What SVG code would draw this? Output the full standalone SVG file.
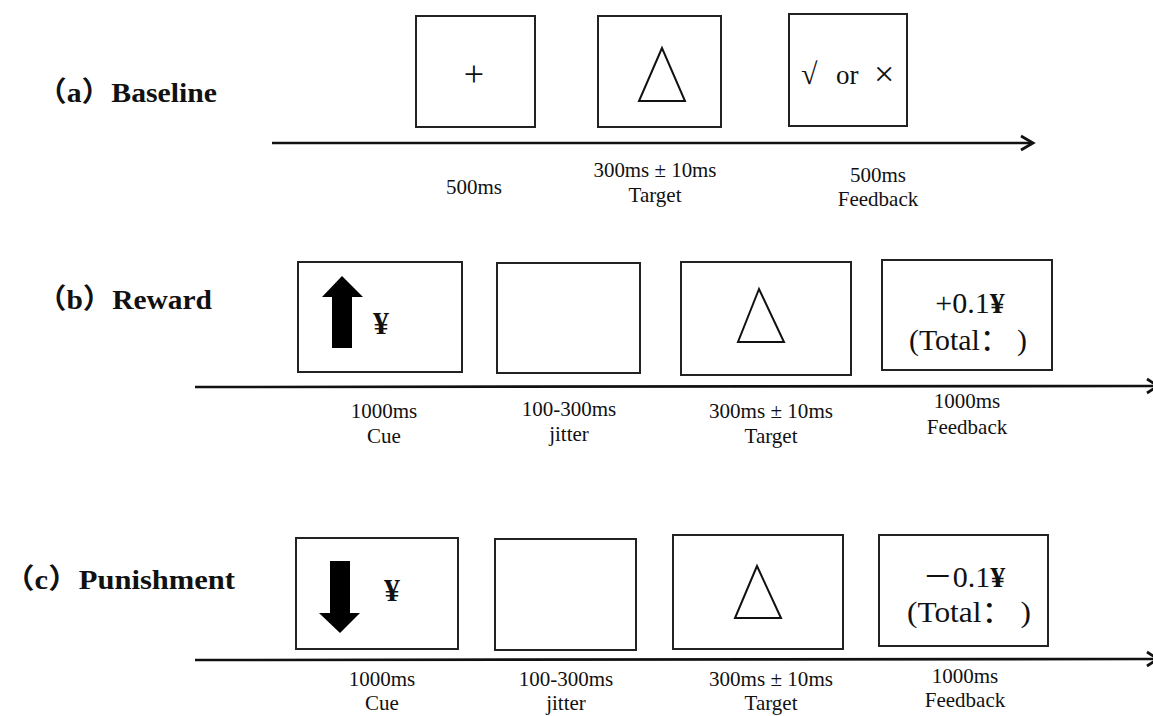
<svg xmlns="http://www.w3.org/2000/svg" width="1153" height="716" viewBox="0 0 1153 716">
<style>
.box{fill:#fff;stroke:#222;stroke-width:2}
.tl{fill:none;stroke:#111;stroke-width:2.6}
.head{fill:none;stroke:#111;stroke-width:2.8;stroke-linejoin:miter}
.lab{font-family:"Liberation Serif","Noto Sans CJK SC",serif;font-weight:bold;font-size:28px;fill:#111}
.t{font-family:"Liberation Serif","Noto Sans CJK SC",serif;font-size:21px;fill:#111;text-anchor:middle}
.big{font-family:"Liberation Serif","Noto Sans CJK SC",serif;font-size:30px;fill:#111;text-anchor:middle}
.yen{font-family:"Liberation Serif","Noto Sans CJK SC",serif;font-size:32px;font-weight:bold;fill:#111;text-anchor:middle}
.sym{font-family:"Liberation Serif","Noto Sans CJK SC",serif;fill:#111}
.tri{fill:none;stroke:#111;stroke-width:2}
.arr{fill:#000}
</style>
<rect width="1153" height="716" fill="#fff"/>

<g id="connectors">
  <line class="tl" x1="272" y1="143" x2="1032" y2="143"/>
  <polyline class="head" points="1021,136 1033,143 1021,150"/>
  <line class="tl" x1="195" y1="387" x2="1153" y2="386"/>
  <polyline class="head" points="1147,379 1158,386 1147,393"/>
  <line class="tl" x1="195" y1="660" x2="1153" y2="659"/>
  <polyline class="head" points="1147,652 1158,659 1147,666"/>
</g>

<!-- Row a -->
<g id="label-a"><text class="lab" x="37" y="102" textLength="180" lengthAdjust="spacingAndGlyphs">（a）Baseline</text></g>
<g id="a-fixation">
  <rect class="box" x="416" y="16" width="119" height="111"/>
  <text class="sym" x="474" y="86" font-size="36" text-anchor="middle">+</text>
  <text class="t" x="474" y="194">500ms</text>
</g>
<g id="a-target">
  <rect class="box" x="598" y="16" width="123" height="111"/>
  <polygon class="tri" points="662,48 639,101 685,101"/>
  <text class="t" x="655" y="177" textLength="123" lengthAdjust="spacingAndGlyphs">300ms ± 10ms</text>
  <text class="t" x="655" y="202">Target</text>
</g>
<g id="a-feedback">
  <rect class="box" x="789" y="14" width="118" height="112"/>
  <text class="sym" x="801" y="84" font-size="30">√</text>
  <text class="sym" x="836" y="84" font-size="27">or</text>
  <text class="sym" x="874" y="86" font-size="36">×</text>
  <text class="t" x="878" y="182">500ms</text>
  <text class="t" x="878" y="206">Feedback</text>
</g>

<!-- Row b -->
<g id="label-b"><text class="lab" x="37" y="309" textLength="175" lengthAdjust="spacingAndGlyphs">（b）Reward</text></g>
<g id="b-cue">
  <rect class="box" x="298" y="262" width="164" height="110"/>
  <polygon class="arr" points="342,276 363,297 352,297 352,348 332,348 332,297 322,297"/>
  <text class="yen" x="381" y="334">¥</text>
  <text class="t" x="384" y="418">1000ms</text>
  <text class="t" x="384" y="443">Cue</text>
</g>
<g id="b-jitter">
  <rect class="box" x="497" y="263" width="143" height="110"/>
  <text class="t" x="569" y="416">100-300ms</text>
  <text class="t" x="569" y="441">jitter</text>
</g>
<g id="b-target">
  <rect class="box" x="681" y="262" width="170" height="113"/>
  <polygon class="tri" points="759,289 738,342 784,342"/>
  <text class="t" x="771" y="418" textLength="124" lengthAdjust="spacingAndGlyphs">300ms ± 10ms</text>
  <text class="t" x="771" y="443">Target</text>
</g>
<g id="b-feedback">
  <rect class="box" x="882" y="260" width="170" height="110"/>
  <text class="big" x="970" y="313">+0.1<tspan font-weight="bold">¥</tspan></text>
  <text class="big" x="968" y="350" textLength="118" lengthAdjust="spacingAndGlyphs">(Total：  )</text>
  <text class="t" x="967" y="408">1000ms</text>
  <text class="t" x="967" y="434">Feedback</text>
</g>

<!-- Row c -->
<g id="label-c"><text class="lab" x="4" y="589" textLength="231" lengthAdjust="spacingAndGlyphs">（c）Punishment</text></g>
<g id="c-cue">
  <rect class="box" x="296" y="538" width="162" height="111"/>
  <polygon class="arr" points="330,561 350,561 350,613 360,613 340,633 319,613 330,613"/>
  <text class="yen" x="392" y="601">¥</text>
  <text class="t" x="382" y="686">1000ms</text>
  <text class="t" x="382" y="710">Cue</text>
</g>
<g id="c-jitter">
  <rect class="box" x="495" y="539" width="141" height="111"/>
  <text class="t" x="566" y="686">100-300ms</text>
  <text class="t" x="566" y="710">jitter</text>
</g>
<g id="c-target">
  <rect class="box" x="673" y="535" width="170" height="114"/>
  <polygon class="tri" points="757,566 735,618 781,618"/>
  <text class="t" x="771" y="686" textLength="124" lengthAdjust="spacingAndGlyphs">300ms ± 10ms</text>
  <text class="t" x="771" y="710">Target</text>
</g>
<g id="c-feedback">
  <rect class="box" x="879" y="535" width="169" height="111"/>
  <text class="big" x="964" y="587">－0.1<tspan font-weight="bold">¥</tspan></text>
  <text class="big" x="969" y="622" textLength="124" lengthAdjust="spacingAndGlyphs">(Total：  )</text>
  <text class="t" x="965" y="683">1000ms</text>
  <text class="t" x="965" y="707">Feedback</text>
</g>
</svg>
